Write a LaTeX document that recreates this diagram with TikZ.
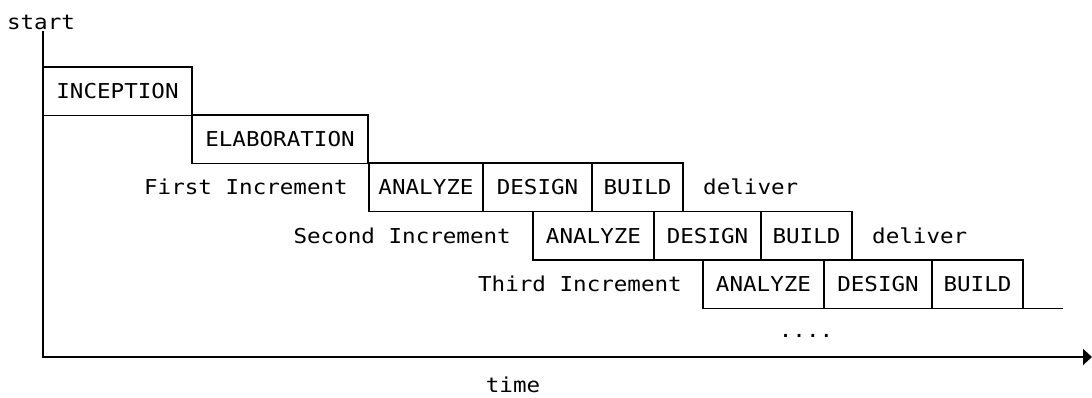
\documentclass[tikz,border=0pt]{standalone}
\usepackage{fontspec}
\newfontfamily\diagfont[FakeStretch=1.1]{DejaVu Sans Mono}
\usetikzlibrary{positioning,arrows.meta}

\begin{document}
\begin{tikzpicture}[x=1pt,y=-1pt]
  \tikzset{
    every node/.style={font=\diagfont\fontsize{20.5}{24}\selectfont, text=black},
    phase box/.style={draw, line width=1.2pt, inner sep=0pt, outer sep=0pt, minimum height=48.5pt, anchor=north west},
    increment label/.style={inner sep=0pt},
    axis line/.style={line width=1.6pt}
  }
  \useasboundingbox (0,0) rectangle (1092,397);

  \node [phase box, minimum width=149pt] (inc) at (43,67) {INCEPTION};
  \node [phase box, minimum width=176pt] (ela) at (192,115) {ELABORATION};

  \node [phase box, minimum width=114pt] (a1) at (369,163) {ANALYZE};
  \node [phase box, minimum width=109pt, right=0pt of a1] (d1) {DESIGN};
  \node [phase box, minimum width=91pt, right=0pt of d1] (b1) {BUILD};
  \node [increment label, left=21pt of a1] (l1) {First Increment};
  \node [increment label, right=20pt of b1] (v1) {deliver};

  \node [phase box, minimum width=121pt] (a2) at (533,211.5) {ANALYZE};
  \node [phase box, minimum width=107pt, right=0pt of a2] (d2) {DESIGN};
  \node [phase box, minimum width=91pt, right=0pt of d2] (b2) {BUILD};
  \node [increment label, left=22pt of a2] (l2) {Second Increment};
  \node [increment label, right=20pt of b2] (v2) {deliver};

  \node [phase box, minimum width=121pt] (a3) at (703,260) {ANALYZE};
  \node [phase box, minimum width=108pt, right=0pt of a3] (d3) {DESIGN};
  \node [phase box, minimum width=91pt, right=0pt of d3] (b3) {BUILD};
  \node [increment label, left=21pt of a3] (l3) {Third Increment};
  \coordinate (r3) at (1063,308.5);
  \draw [line width=1.2pt] (b3.south east) -- (r3);

  \node [increment label] (more) at (806,336) {....};

  % axes
  \node [anchor=south, inner sep=1pt] (start) at (41,31) {start};
  \coordinate (org) at (43,357);
  \coordinate (tend) at (1092,357);
  \draw [axis line, -{Triangle[length=9pt,width=16pt]}] (start.south -| org) -- (org) -- (tend);
  \node [increment label] (time) at (513,385) {time};
\end{tikzpicture}
\end{document}
